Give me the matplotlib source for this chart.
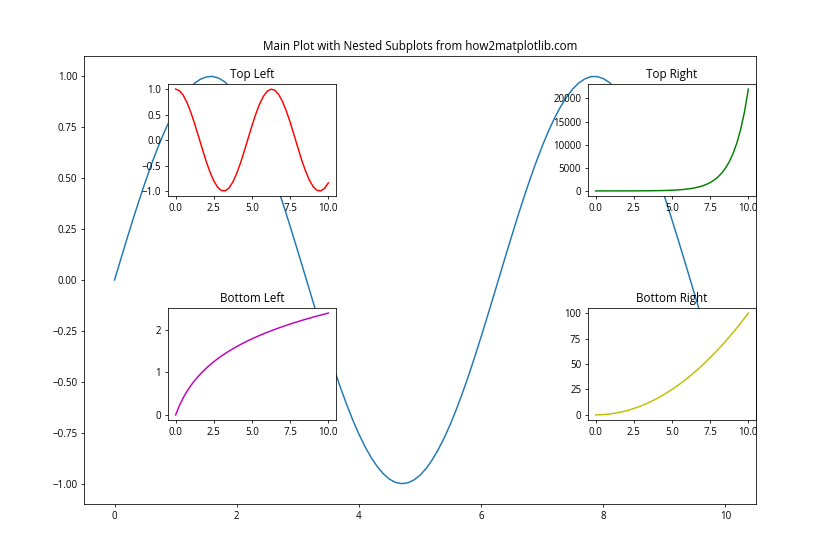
import matplotlib
matplotlib.use("Agg")
import matplotlib.pyplot as plt

plt.rcParams['font.family'] = ['Open Sans', 'DejaVu Sans']

# main curve, x from 0 to 10 in steps of 0.1
main_x = [0.0, 0.1, 0.2, 0.3, 0.4, 0.5, 0.6, 0.7, 0.8, 0.9,
          1.0, 1.1, 1.2, 1.3, 1.4, 1.5, 1.6, 1.7, 1.8, 1.9,
          2.0, 2.1, 2.2, 2.3, 2.4, 2.5, 2.6, 2.7, 2.8, 2.9,
          3.0, 3.1, 3.2, 3.3, 3.4, 3.5, 3.6, 3.7, 3.8, 3.9,
          4.0, 4.1, 4.2, 4.3, 4.4, 4.5, 4.6, 4.7, 4.8, 4.9,
          5.0, 5.1, 5.2, 5.3, 5.4, 5.5, 5.6, 5.7, 5.8, 5.9,
          6.0, 6.1, 6.2, 6.3, 6.4, 6.5, 6.6, 6.7, 6.8, 6.9,
          7.0, 7.1, 7.2, 7.3, 7.4, 7.5, 7.6, 7.7, 7.8, 7.9,
          8.0, 8.1, 8.2, 8.3, 8.4, 8.5, 8.6, 8.7, 8.8, 8.9,
          9.0, 9.1, 9.2, 9.3, 9.4, 9.5, 9.6, 9.7, 9.8, 9.9,
          10.0]
main_y = [0.000, 0.100, 0.199, 0.296, 0.389, 0.479, 0.565, 0.644, 0.717, 0.783,
          0.841, 0.891, 0.932, 0.964, 0.985, 0.997, 1.000, 0.992, 0.974, 0.946,
          0.909, 0.863, 0.808, 0.746, 0.675, 0.598, 0.516, 0.427, 0.335, 0.239,
          0.141, 0.042, -0.058, -0.158, -0.256, -0.351, -0.443, -0.530, -0.612, -0.688,
          -0.757, -0.818, -0.872, -0.916, -0.952, -0.978, -0.994, -1.000, -0.996, -0.982,
          -0.959, -0.926, -0.883, -0.832, -0.773, -0.706, -0.631, -0.551, -0.465, -0.374,
          -0.279, -0.182, -0.083, 0.017, 0.117, 0.215, 0.312, 0.405, 0.494, 0.578,
          0.657, 0.729, 0.794, 0.850, 0.899, 0.938, 0.968, 0.988, 0.999, 0.999,
          0.989, 0.970, 0.941, 0.902, 0.855, 0.798, 0.734, 0.663, 0.585, 0.501,
          0.412, 0.319, 0.223, 0.125, 0.025, -0.075, -0.174, -0.273, -0.366, -0.458,
          -0.544]

# inset curves, x from 0 to 10 in steps of 0.25
x = [0.0, 0.25, 0.5, 0.75, 1.0, 1.25, 1.5, 1.75, 2.0, 2.25, 2.5, 2.75,
     3.0, 3.25, 3.5, 3.75, 4.0, 4.25, 4.5, 4.75, 5.0, 5.25, 5.5, 5.75,
     6.0, 6.25, 6.5, 6.75, 7.0, 7.25, 7.5, 7.75, 8.0, 8.25, 8.5, 8.75,
     9.0, 9.25, 9.5, 9.75, 10.0]

# top left (red)
top_left_y = [1.000, 0.969, 0.878, 0.732, 0.540, 0.315, 0.071, -0.178, -0.416,
              -0.628, -0.801, -0.924, -0.990, -0.994, -0.936, -0.820, -0.654,
              -0.446, -0.211, 0.038, 0.284, 0.512, 0.709, 0.861, 0.960, 0.999,
              0.977, 0.893, 0.754, 0.568, 0.347, 0.105, -0.146, -0.390, -0.602,
              -0.781, -0.911, -0.985, -0.997, -0.948, -0.839]

# top right (green)
top_right_y = [1, 1.3, 1.6, 2.1, 2.7, 3.5, 4.5, 5.8, 7.4, 9.5, 12, 16, 20,
               26, 33, 43, 55, 70, 90, 116, 148, 191, 245, 314, 403, 518,
               665, 854, 1097, 1408, 1808, 2322, 2981, 3828, 4915, 6311,
               8103, 10405, 13360, 17154, 22026]

# bottom left (magenta)
bottom_left_y = [0.000, 0.223, 0.405, 0.560, 0.693, 0.811, 0.916, 1.012, 1.099,
                 1.179, 1.253, 1.322, 1.386, 1.447, 1.504, 1.558, 1.609, 1.658,
                 1.705, 1.749, 1.792, 1.833, 1.872, 1.910, 1.946, 1.981, 2.015,
                 2.048, 2.079, 2.110, 2.140, 2.169, 2.197, 2.225, 2.251, 2.277,
                 2.303, 2.327, 2.351, 2.375, 2.398]

# bottom right (yellow)
bottom_right_y = [0.0, 0.1, 0.3, 0.6, 1.0, 1.6, 2.3, 3.1, 4.0, 5.1, 6.3, 7.6,
                  9.0, 10.6, 12.3, 14.1, 16.0, 18.1, 20.3, 22.6, 25.0, 27.6,
                  30.3, 33.1, 36.0, 39.1, 42.3, 45.6, 49.0, 52.6, 56.3, 60.1,
                  64.0, 68.1, 72.3, 76.6, 81.0, 85.6, 90.3, 95.1, 100.0]

fig = plt.figure(figsize=(12, 8), dpi=70)

ax = fig.add_axes([0.1, 0.1, 0.8, 0.8])
ax.plot(main_x, main_y)
ax.set_title("Main Plot with Nested Subplots from how2matplotlib.com")

insets = [
    ([0.2, 0.65, 0.2, 0.2], top_left_y, 'r', "Top Left"),
    ([0.7, 0.65, 0.2, 0.2], top_right_y, 'g', "Top Right"),
    ([0.2, 0.25, 0.2, 0.2], bottom_left_y, 'm', "Bottom Left"),
    ([0.7, 0.25, 0.2, 0.2], bottom_right_y, 'y', "Bottom Right"),
]
for rect, ys, color, title in insets:
    sub = fig.add_axes(rect)
    sub.plot(x, ys, color=color)
    sub.set_title(title)

fig.savefig("out.png", dpi=70)
plt.close(fig)
